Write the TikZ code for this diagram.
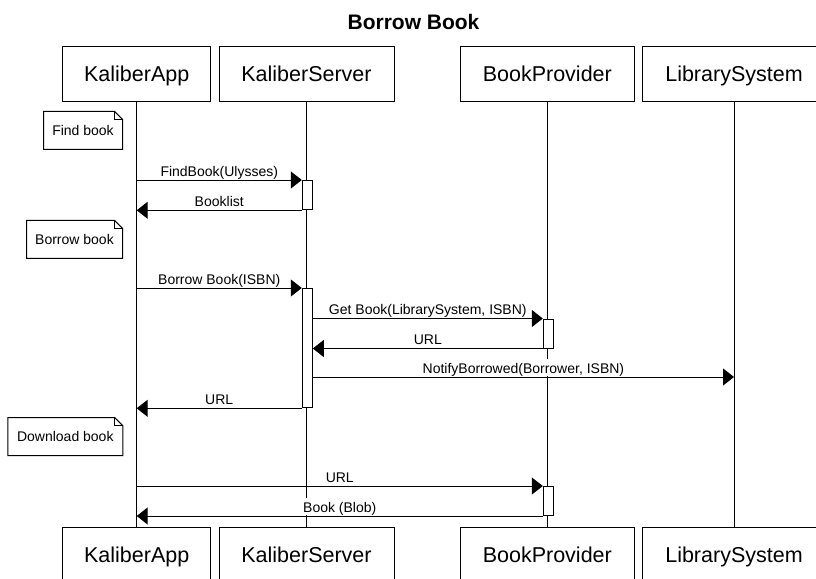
\documentclass[tikz,border=0pt]{standalone}
\usepackage{fontspec}
\setmainfont{Liberation Sans}
\usetikzlibrary{arrows.meta}

\begin{document}
\begin{tikzpicture}[x=1pt, y=-1pt, line width=1pt,
  actor/.style={draw, fill=white, inner sep=0pt, minimum height=55.5pt,
    text height=15.4pt, text depth=0pt, font=\fontsize{21.5}{24}\selectfont},
  notebox/.style={inner sep=0pt, minimum height=37pt, text height=10pt,
    text depth=0pt, font=\fontsize{14}{16}\selectfont},
  act/.style={draw, fill=white, inner sep=0pt, minimum width=10pt, anchor=north},
  msg/.style={-{Triangle[length=11pt, width=17pt]}},
  lbl/.style={midway, anchor=base, yshift=4pt, fill=white, inner xsep=1pt,
    inner ysep=0pt, text height=14pt, text depth=3pt,
    font=\fontsize{14}{16}\selectfont}]

  % page area
  \fill[white] (0,0) rectangle (816,578);
  \useasboundingbox (0,0) rectangle (816,578);
  \clip (0,0) rectangle (816,578);

  % title
  \node[anchor=base, inner sep=0pt, font=\bfseries\fontsize{21}{24}\selectfont]
    (title) at (413.5,29.3) {Borrow Book};

  % participants, top row
  \node[actor, minimum width=148pt]   (kaT) at (136.7,74.1) {KaliberApp};
  \node[actor, minimum width=175pt]   (ksT) at (306.5,74.1) {KaliberServer};
  \node[actor, minimum width=174pt]   (bpT) at (547.3,74.1) {BookProvider};
  \node[actor, minimum width=183.4pt] (lsT) at (734,74.1)   {LibrarySystem};

  % participants, bottom row
  \node[actor, minimum width=148pt]   (kaB) at (136.7,555) {KaliberApp};
  \node[actor, minimum width=175pt]   (ksB) at (306.5,555) {KaliberServer};
  \node[actor, minimum width=174pt]   (bpB) at (547.3,555) {BookProvider};
  \node[actor, minimum width=183.4pt] (lsB) at (734,555)   {LibrarySystem};

  % lifelines
  \draw (kaT) -- (kaB);
  \draw (ksT) -- (ksB);
  \draw (bpT) -- (bpB);
  \draw (lsT) -- (lsB);

  % notes
  \node[notebox, minimum width=78pt]  (n1) at (83,130.3)   {Find book};
  \node[notebox, minimum width=95pt]  (n2) at (74.5,239.3) {Borrow book};
  \node[notebox, minimum width=114pt] (n3) at (65.3,436.7) {Download book};
  \foreach \n in {n1,n2,n3} {
    \draw (\n.north west) -- ([xshift=-8pt]\n.north east)
      -- ([yshift=-8pt]\n.north east) -- (\n.south east)
      -- (\n.south west) -- cycle;
    \draw ([xshift=-8pt]\n.north east) |- ([yshift=-8pt]\n.north east);
  }

  % activation bars
  \node[act, minimum height=29.3pt]  (a1) at (307.3,180) {};
  \node[act, minimum height=119.3pt] (a2) at (307.3,288) {};
  \node[act, minimum height=29pt]    (a3) at (548.3,318.5) {};
  \node[act, minimum height=29pt]    (a4) at (548.3,486) {};
  \coordinate (y6) at (0,377);

  % find book
  \draw[msg] (kaT |- a1.north west) -- node[lbl] {FindBook(Ulysses)} (a1.north west);
  \draw[msg] (a1.south west) -- node[lbl] {Booklist} (kaT |- a1.south west);

  % borrow book
  \draw[msg] (kaT |- a2.north west) -- node[lbl] {Borrow Book(ISBN)} (a2.north west);
  \draw[msg] (a2.east |- a3.north west) -- node[lbl] {Get Book(LibrarySystem, ISBN)} (a3.north west);
  \draw[msg] (a3.south west) -- node[lbl] {URL} (a2.east |- a3.south west);
  \draw[msg] (a2.east |- y6) -- node[lbl] {NotifyBorrowed(Borrower, ISBN)} (lsT |- y6);
  \draw[msg] (a2.south west) -- node[lbl] {URL} (kaT |- a2.south west);

  % download book
  \draw[msg] (kaT |- a4.north west) -- node[lbl] {URL} (a4.north west);
  \draw[msg] (a4.south west) -- node[lbl] {Book (Blob)} (kaT |- a4.south west);
\end{tikzpicture}
\end{document}
